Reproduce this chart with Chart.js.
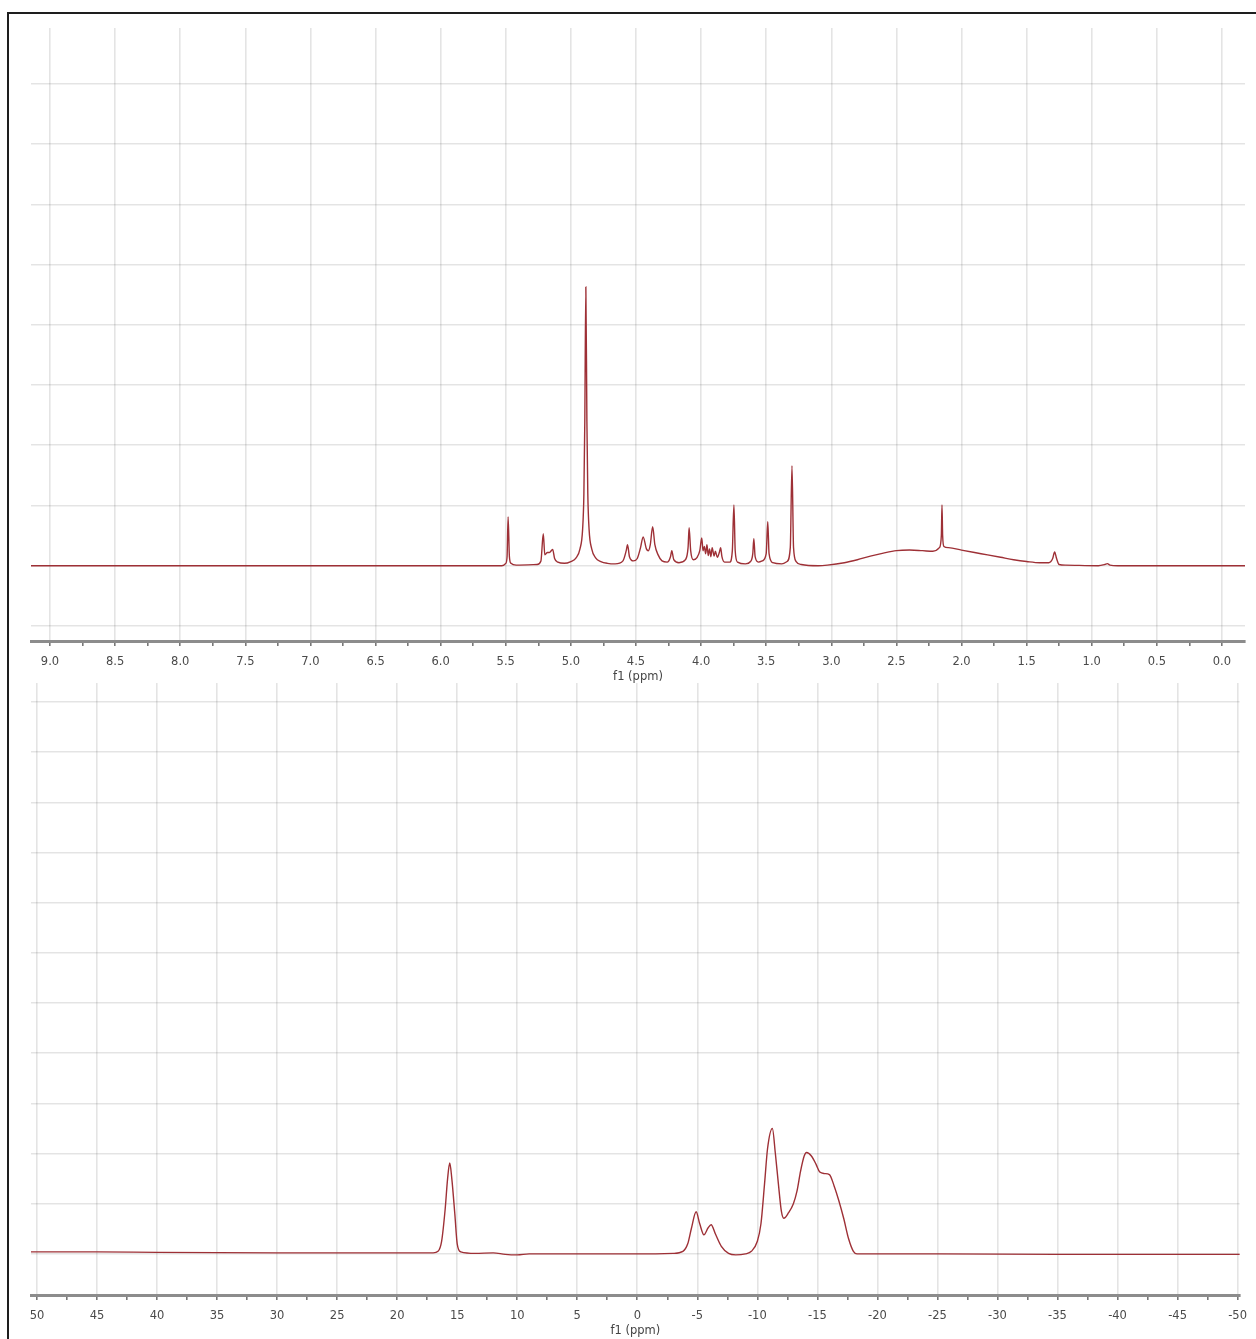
<!DOCTYPE html>
<html><head><meta charset="utf-8">
<script src="https://cdn.jsdelivr.net/npm/chart.js@4.4.1/dist/chart.umd.min.js"></script>
<style>
html,body{margin:0;padding:0;background:#fff;width:1256px;height:1339px;overflow:hidden;}
#frame{position:absolute;left:7px;top:12px;width:1270px;height:1350px;border-left:2.5px solid #1e1e1e;border-top:2.5px solid #1e1e1e;box-sizing:border-box}
.wrap{position:absolute;left:0;width:1256px}
</style></head><body>
<div id="frame"></div>
<div class="wrap" style="top:0;height:684px"><canvas id="c1"></canvas></div>
<div class="wrap" style="top:660px;height:678px"><canvas id="c2"></canvas></div>
<script>
// ---- top spectrum (1H, f1 ppm) ----
const topPpm = [9.15,5.53,5.50,5.49,5.482,5.472,5.46,5.42,5.26,5.23,5.212,5.20,5.18,5.165,5.14,5.125,5.10,5.05,5.00,4.96,4.93,4.91,4.90,4.893,4.885,4.877,4.87,4.86,4.84,4.81,4.77,4.72,4.66,4.60,4.575,4.565,4.55,4.52,4.49,4.465,4.445,4.42,4.405,4.39,4.372,4.355,4.33,4.30,4.26,4.235,4.225,4.21,4.17,4.12,4.10,4.092,4.08,4.06,4.03,4.01,3.995,3.985,3.975,3.965,3.955,3.945,3.935,3.925,3.915,3.90,3.89,3.875,3.86,3.85,3.84,3.82,3.78,3.76,3.748,3.738,3.72,3.66,3.62,3.603,3.595,3.585,3.56,3.53,3.50,3.488,3.478,3.45,3.38,3.34,3.315,3.302,3.29,3.27,3.23,3.10,3.03,2.90,2.80,2.70,2.60,2.50,2.40,2.30,2.22,2.17,2.155,2.15,2.145,2.135,2.10,2.00,1.90,1.80,1.70,1.60,1.50,1.40,1.33,1.30,1.285,1.27,1.25,1.20,0.95,0.90,0.88,0.86,0.80,-0.18];
const topIntensity = [0,0,0.04,0.15,0.81,0.15,0.04,0.01,0.02,0.08,0.53,0.18,0.22,0.22,0.27,0.12,0.06,0.04,0.07,0.13,0.28,0.6,1.2,2.4,4.63,2.4,1.2,0.6,0.28,0.13,0.07,0.04,0.03,0.08,0.25,0.35,0.15,0.08,0.12,0.30,0.48,0.28,0.25,0.35,0.65,0.35,0.18,0.08,0.06,0.15,0.25,0.1,0.05,0.1,0.3,0.63,0.25,0.1,0.14,0.25,0.46,0.25,0.32,0.2,0.35,0.17,0.28,0.15,0.30,0.16,0.24,0.14,0.22,0.3,0.15,0.06,0.06,0.25,1.01,0.25,0.06,0.03,0.07,0.2,0.45,0.15,0.06,0.08,0.2,0.73,0.2,0.05,0.03,0.07,0.3,1.66,0.3,0.07,0.02,0,0.01,0.05,0.1,0.16,0.21,0.25,0.26,0.25,0.24,0.3,0.5,1.01,0.5,0.32,0.3,0.26,0.22,0.18,0.14,0.10,0.07,0.05,0.05,0.12,0.23,0.12,0.02,0.01,0,0.02,0.035,0.01,0,0];
const topTickValues = [9,8.5,8,7.5,7,6.5,6,5.5,5,4.5,4,3.5,3,2.5,2,1.5,1,0.5,0];
const topTickLabels = ['9.0','8.5','8.0','7.5','7.0','6.5','6.0','5.5','5.0','4.5','4.0','3.5','3.0','2.5','2.0','1.5','1.0','0.5','0.0'];

// ---- bottom spectrum (f1 ppm) ----
const botPpm = [50.5,45,40,30,20,17.0,16.6,16.3,16.0,15.8,15.62,15.45,15.2,15.0,14.7,13.5,12.0,11.0,10.0,9.0,5,0,-3.0,-3.8,-4.2,-4.5,-4.9,-5.2,-5.55,-5.9,-6.15,-6.5,-7.0,-7.6,-8.2,-9.0,-9.5,-10.0,-10.3,-10.6,-10.85,-11.25,-11.5,-11.75,-12.0,-12.2,-12.6,-13.0,-13.3,-13.6,-13.9,-14.1,-14.5,-14.9,-15.2,-15.6,-16.0,-16.4,-16.8,-17.2,-17.6,-18.0,-18.3,-25,-35,-45,-50.2];
const botIntensity = [0.04,0.04,0.03,0.02,0.02,0.02,0.05,0.25,0.9,1.5,1.81,1.5,0.8,0.2,0.04,0.01,0.02,-0.01,-0.02,0,0,0,0.01,0.05,0.2,0.5,0.84,0.6,0.38,0.52,0.58,0.4,0.15,0.01,-0.02,0,0.05,0.25,0.6,1.4,2.1,2.5,2.0,1.4,0.85,0.71,0.82,1.0,1.25,1.65,1.95,2.02,1.95,1.78,1.63,1.6,1.58,1.35,1.05,0.7,0.3,0.05,0,0,-0.01,-0.01,-0.01];
const botTickValues = [50,45,40,35,30,25,20,15,10,5,0,-5,-10,-15,-20,-25,-30,-35,-40,-45,-50];
const botTickLabels = ['50','45','40','35','30','25','20','15','10','5','0','-5','-10','-15','-20','-25','-30','-35','-40','-45','-50'];

const FONT = {family:'DejaVu Sans', size:11.5};
const GRID = 'rgba(0,0,0,0.105)';
function isMajor(v, vals){ return vals.some(t => Math.abs(t - v) < 1e-6); }

function makeChart(id, ppm, inten, opt){
  const pts = ppm.map((p,i)=>({x:p, y:inten[i]}));
  new Chart(document.getElementById(id), {
    type:'line',
    data:{datasets:[{data:pts, borderColor:'#9e3036', borderWidth:1.4, pointRadius:0, cubicInterpolationMode:'monotone', fill:false}]},
    options:{
      responsive:true, maintainAspectRatio:false, animation:false,
      layout:{padding:{left:31,right:11,top:opt.padTop,bottom:0}},
      plugins:{legend:{display:false}, tooltip:{enabled:false}},
      scales:{
        x:{type:'linear', reverse:true, min:opt.xMin, max:opt.xMax,
          afterFit:s=>{s.height=43;},
          ticks:{stepSize:opt.minor, includeBounds:false, autoSkip:false, maxRotation:0, padding:9, color:'#4a4a4a', font:FONT,
            callback:(v)=>{ const i = opt.vals.findIndex(t=>Math.abs(t-v)<1e-6); return i>=0 ? opt.labels[i] : ''; }},
          grid:{color:c=> (c.tick && isMajor(c.tick.value,opt.vals)) ? GRID : 'rgba(0,0,0,0)', lineWidth:1.6, tickColor:'#777', tickLength:5},
          border:{display:true, color:'#8c8c8c', width:3},
          title:{display:true, text:'f1 (ppm)', color:'#444', font:FONT, padding:{top:0,bottom:0}}
        },
        y:{min:opt.yMin, max:opt.yMax, afterFit:s=>{s.width=0;},
          ticks:{display:false, stepSize:1, includeBounds:false},
          grid:{color:GRID, lineWidth:1.6, drawTicks:false},
          border:{display:false}
        }
      }
    }
  });
}
makeChart('c1', topPpm, topIntensity, {padTop:28, xMin:-0.177, xMax:9.146, minor:0.25, yMin:-1.25, yMax:8.93, vals:topTickValues, labels:topTickLabels});
makeChart('c2', botPpm, botIntensity, {padTop:23, xMin:-50.17, xMax:50.5, minor:2.5, yMin:-0.82, yMax:11.38, vals:botTickValues, labels:botTickLabels});
</script>
</body></html>
